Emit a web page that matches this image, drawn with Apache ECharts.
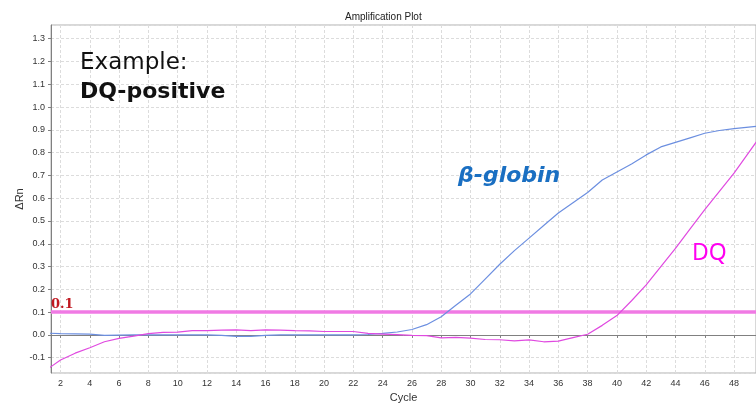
<!DOCTYPE html>
<html>
<head>
<meta charset="utf-8">
<style>
  html, body { margin: 0; padding: 0; background: #fff; }
  #chart { width: 756px; height: 404px; }
</style>
<script src="https://cdn.jsdelivr.net/npm/echarts@6/dist/echarts.min.js"></script>
</head>
<body>
<div id="chart"></div>
<script>
// Amplification cycles and ΔRn readings for the two targets
const cycles = [1,2,3,4,5,6,7,8,9,10,11,12,13,14,15,16,17,18,19,20,21,22,23,24,25,
  26,27,28,29,30,31,32,33,34,35,36,37,38,39,40,41,42,43,44,45,46,47,48,49,50];

const betaGlobin = [0.008,0.006,0.005,0.004,-0.002,-0.001,0,0,0,0,0,0,-0.002,-0.006,-0.006,
  -0.002,0,0,0,0,0,0,0.002,0.007,0.013,0.024,0.045,0.08,0.13,0.18,0.245,0.31,0.37,0.425,
  0.48,0.535,0.58,0.625,0.68,0.715,0.75,0.79,0.825,0.845,0.865,0.885,0.897,0.905,0.912,0.918];

const dq = [-0.155,-0.11,-0.08,-0.056,-0.03,-0.015,-0.005,0.006,0.011,0.012,0.019,0.019,0.021,
  0.022,0.019,0.022,0.021,0.019,0.018,0.015,0.015,0.015,0.007,0.004,0.001,-0.002,-0.003,
  -0.013,-0.011,-0.014,-0.02,-0.021,-0.026,-0.022,-0.03,-0.027,-0.012,0.003,0.042,0.085,
  0.15,0.22,0.30,0.38,0.465,0.55,0.63,0.71,0.80,0.89];

const threshold = 0.1;
const seriesNames = ['β-globin', 'DQ'];

const chart = echarts.init(document.getElementById('chart'), null, { renderer: 'canvas' });

const pairs = (ys) => cycles.map((c, i) => [c, ys[i]]);

const axisText = { color: '#333', fontSize: 9, fontFamily: 'Liberation Sans, Arial, sans-serif' };
const gridLine = { show: true, lineStyle: { color: '#dcdcdc', type: [3, 2], width: 1 } };

chart.setOption({
  animation: false,
  backgroundColor: '#fff',
  title: {
    text: 'Amplification Plot',
    left: 340, top: 7,
    textStyle: { fontSize: 10, fontWeight: 'normal', color: '#222',
      fontFamily: 'Liberation Sans, Arial, sans-serif' }
  },
  grid: {
    left: 51, right: 0, top: 25, bottom: 31,
    outerBoundsMode: 'none',
    containLabel: false,
    show: true, borderColor: '#b0b0b0', borderWidth: 1, backgroundColor: '#fff'
  },
  xAxis: {
    type: 'value',
    min: 1.35, max: 49.5,
    minInterval: 2, maxInterval: 2, splitNumber: 24,
    name: 'Cycle', nameLocation: 'middle', nameGap: 19, nameMoveOverlap: false,
    nameTextStyle: { color: '#333', fontSize: 11, fontFamily: 'Liberation Sans, Arial, sans-serif' },
    axisLine: { show: true, lineStyle: { color: '#808080' } },
    axisTick: { show: true, length: 3, lineStyle: { color: '#808080' } },
    axisLabel: Object.assign({ margin: 6, showMinLabel: false, showMaxLabel: false,
      formatter: (v) => (Number.isInteger(v) ? String(v) : '') }, axisText),
    splitLine: gridLine
  },
  yAxis: {
    type: 'value',
    min: -0.167, max: 1.36,
    minInterval: 0.1, maxInterval: 0.1, splitNumber: 15,
    name: 'ΔRn', nameLocation: 'middle', nameGap: 26, nameRotate: 90, nameMoveOverlap: false,
    nameTextStyle: { color: '#333', fontSize: 11, fontFamily: 'Liberation Sans, Arial, sans-serif' },
    axisLine: { show: true, lineStyle: { color: '#808080' } },
    axisTick: { show: true, length: 3, lineStyle: { color: '#808080' } },
    axisLabel: Object.assign({ margin: 6, showMinLabel: false, showMaxLabel: false,
      formatter: (v) => v.toFixed(1) }, axisText),
    splitLine: gridLine
  },
  series: [
    {
      name: seriesNames[0],
      type: 'line',
      data: pairs(betaGlobin),
      showSymbol: false,
      clip: true,
      lineStyle: { color: '#6c8fe0', width: 1.2 },
      z: 3
    },
    {
      name: seriesNames[1],
      type: 'line',
      data: pairs(dq),
      showSymbol: false,
      clip: true,
      lineStyle: { color: '#e04ae0', width: 1.2 },
      z: 4,
      markLine: {
        silent: true,
        symbol: ['none', 'none'],
        lineStyle: { color: '#f07ae4', width: 3.5, type: 'solid' },
        label: {
          show: true,
          position: 'insideStartTop',
          distance: [0, 1],
          formatter: () => String(threshold),
          color: '#c01820',
          fontSize: 13,
          fontWeight: 'bold',
          fontFamily: 'DejaVu Serif, Liberation Serif, serif'
        },
        data: [{ yAxis: threshold }],
        z: 2
      }
    }
  ],
  graphic: [
    {
      type: 'text', left: 80, top: 52, z: 100,
      style: { text: 'Example:', fill: '#111', fontSize: 23,
        fontFamily: 'DejaVu Sans, sans-serif', fontWeight: 'normal' }
    },
    {
      type: 'text', left: 80, top: 81, z: 100,
      style: { text: 'DQ-positive', fill: '#111', fontSize: 22,
        fontFamily: 'DejaVu Sans, sans-serif', fontWeight: 'bold' }
    },
    {
      type: 'text', left: 458, top: 165, z: 100,
      style: { text: seriesNames[0], fill: '#1a6fc2', fontSize: 22,
        fontFamily: 'DejaVu Sans, sans-serif', fontWeight: 'bold', fontStyle: 'italic' }
    },
    {
      type: 'text', left: 692, top: 242, z: 100,
      style: { text: seriesNames[1], fill: '#ff00f0', fontSize: 23,
        fontFamily: 'Noto Sans, Open Sans, sans-serif', fontWeight: 'normal' }
    }
  ]
});
</script>
</body>
</html>
